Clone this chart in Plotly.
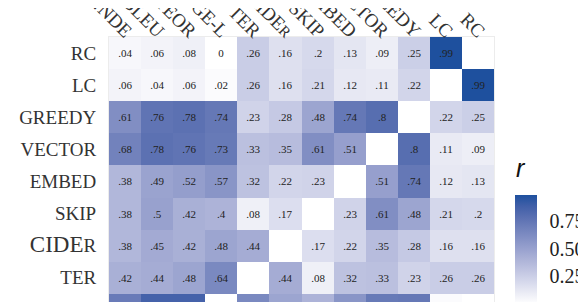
import math
import plotly.graph_objects as go

# Column (metric) labels, left to right
col_labels = ["…NDE", "BLEU", "METEOR", "ROUGE-L", "TER",
              "CIDE<span style='font-size:15px'>R</span>",
              "SKIP", "EMBED", "VECTOR", "GREEDY", "LC", "RC"]
# Row labels, top to bottom (visible part of the matrix)
row_labels = ["RC", "LC", "GREEDY", "VECTOR", "EMBED", "SKIP",
              "<span style='font-size:23px'>CIDE</span>R", "TER", "ROUGE-L"]

nan = float("nan")
r_RC     = [.04, .06, .08, 0,   .26, .16, .2,  .13, .09, .25, .99, nan]
r_LC     = [.06, .04, .06, .02, .26, .16, .21, .12, .11, .22, nan, .99]
r_GREEDY = [.61, .76, .78, .74, .23, .28, .48, .74, .8,  nan, .22, .25]
r_VECTOR = [.68, .78, .76, .73, .33, .35, .61, .51, nan, .8,  .11, .09]
r_EMBED  = [.38, .49, .52, .57, .32, .22, .23, nan, .51, .74, .12, .13]
r_SKIP   = [.38, .5,  .42, .4,  .08, .17, nan, .23, .61, .48, .21, .2]
r_CIDER  = [.38, .45, .42, .48, .44, nan, .17, .22, .35, .28, .16, .16]
r_TER    = [.42, .44, .48, .64, nan, .44, .08, .32, .33, .23, .26, .26]
r_ROUGEL = [.72, .87, .87, nan, .64, .48, .4,  .57, .73, .74, .02, 0]

z = [r_RC, r_LC, r_GREEDY, r_VECTOR, r_EMBED, r_SKIP, r_CIDER, r_TER, r_ROUGEL]

cbar_ticks = [0, 0.25, 0.5, 0.75]
z_min, z_max = 0, 0.99


def fmt(v):
    if v != v:
        return ""
    s = f"{v:.2f}".rstrip("0").rstrip(".")
    if s.startswith("0."):
        s = s[1:]
    return s


text = [[fmt(v) for v in row] for row in z]


# Lab interpolation white -> dark blue (ggplot-like gradient)
def srgb_to_lin(c):
    c /= 255
    return c / 12.92 if c <= 0.04045 else ((c + 0.055) / 1.055) ** 2.4


def lin_to_srgb(c):
    c = c * 12.92 if c <= 0.0031308 else 1.055 * c ** (1 / 2.4) - 0.055
    return max(0, min(255, round(c * 255)))


def rgb_to_lab(rgb):
    r, g, b = [srgb_to_lin(float(x)) for x in rgb]
    X = (0.4124 * r + 0.3576 * g + 0.1805 * b) / 0.95047
    Y = (0.2126 * r + 0.7152 * g + 0.0722 * b)
    Z = (0.0193 * r + 0.1192 * g + 0.9505 * b) / 1.08883
    f = lambda t: t ** (1 / 3) if t > 0.008856 else 7.787 * t + 16 / 116
    fx, fy, fz = f(X), f(Y), f(Z)
    return (116 * fy - 16, 500 * (fx - fy), 200 * (fy - fz))


def lab_to_rgb(lab):
    L, a, bb = lab
    fy = (L + 16) / 116
    fx = fy + a / 500
    fz = fy - bb / 200
    inv = lambda t: t ** 3 if t ** 3 > 0.008856 else (t - 16 / 116) / 7.787
    X, Y, Z = inv(fx) * 0.95047, inv(fy), inv(fz) * 1.08883
    r = 3.2406 * X - 1.5372 * Y - 0.4986 * Z
    g = -0.9689 * X + 1.8758 * Y + 0.0415 * Z
    b = 0.0557 * X - 0.2040 * Y + 1.0570 * Z
    return tuple(lin_to_srgb(max(0, c)) for c in (r, g, b))


low = rgb_to_lab((255, 255, 255))
high = rgb_to_lab((30, 80, 158))
stops = []
for i in range(11):
    t = i / 10
    lab = tuple(low[k] + (high[k] - low[k]) * t for k in range(3))
    r, g, b = lab_to_rgb(lab)
    stops.append([t, f"rgb({r},{g},{b})"])

serif = "Liberation Serif"

# geometry (pixels within the figure)
W, H = 578, 294
ML, MT = 101, 29
PW, PH = 385, 265
CB_X = 1.0545          # colorbar left edge (paper)
CB_TOP = 0.4038        # colorbar top (paper)
CB_LEN = 109           # px
CB_TH = 22             # px

fig = go.Figure(go.Heatmap(
    z=z, x=col_labels, y=row_labels,
    text=text, texttemplate="%{text}",
    textfont=dict(family=serif, size=11, color="#222222"),
    colorscale=stops, zmin=z_min, zmax=z_max,
    hoverongaps=False,
    colorbar=dict(
        lenmode="pixels", len=CB_LEN, thickness=CB_TH,
        x=CB_X, xanchor="left", xpad=0,
        y=CB_TOP, yanchor="top", ypad=0,
        tickvals=cbar_ticks, tickformat=".2f",
        ticks="outside", ticklen=9, tickcolor="rgba(0,0,0,0)",
        tickfont=dict(family=serif, size=20, color="#222"),
        outlinewidth=0,
    ),
))

# white ggplot-style tick marks on both edges of the colour bar
shapes = []
for v in cbar_ticks[1:]:
    yv = CB_TOP - (z_max - v) / (z_max - z_min) * CB_LEN / PH
    for x0, x1 in ((0, 4.5), (CB_TH - 4.5, CB_TH)):
        shapes.append(dict(type="line", xref="paper", yref="paper",
                           x0=CB_X + x0 / PW, x1=CB_X + x1 / PW, y0=yv, y1=yv,
                           line=dict(color="white", width=1), layer="above"))

fig.update_layout(
    width=W, height=H,
    margin=dict(l=ML, r=W - ML - PW, t=MT, b=H - MT - PH, autoexpand=False),
    paper_bgcolor="white", plot_bgcolor="white",
    font=dict(family=serif, color="#333"),
    shapes=shapes,
    annotations=[dict(text="<i>r</i>", xref="paper", yref="paper",
                      x=CB_X - 1 / PW, y=0.505, xanchor="left", yanchor="middle",
                      showarrow=False,
                      font=dict(family="Liberation Sans", size=25, color="#111"))],
)
fig.update_xaxes(side="top", tickangle=45, type="category", automargin=False,
                 range=[-0.5, 11.5], dtick=1, showgrid=False, zeroline=False,
                 showline=True, linecolor="#ececec", mirror=True,
                 tickfont=dict(family=serif, size=19, color="#333"),
                 ticks="", ticklabelstandoff=-13, ticklabelshift=6)
fig.update_yaxes(type="category", range=[7.755, -0.5], dtick=1, automargin=False,
                 showgrid=False, zeroline=False, showline=True,
                 linecolor="#ececec", mirror=True,
                 tickfont=dict(family=serif, size=19, color="#333"),
                 ticks="", ticklabelstandoff=8)

fig.write_html("out.html")
